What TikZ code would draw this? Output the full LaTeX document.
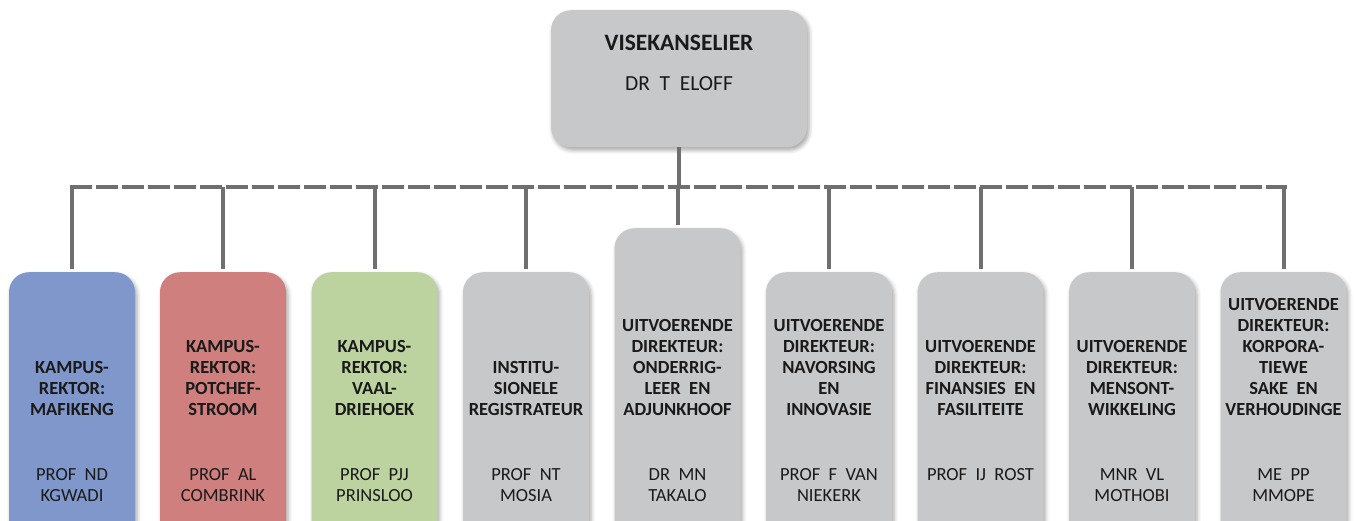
\documentclass[tikz,border=0pt]{standalone}
\usepackage{fontspec}
\setmainfont{Carlito}[WordSpace=2]
\usetikzlibrary{shadows.blur}

\definecolor{campusblue}{HTML}{7F97CB}
\definecolor{campusred}{HTML}{CF7F7E}
\definecolor{campusgreen}{HTML}{BCD39F}
\definecolor{boxgray}{HTML}{C7C8CA}
\definecolor{linegray}{HTML}{6F6F6F}
\definecolor{inkblack}{HTML}{1A1A1A}

\begin{document}
\begin{tikzpicture}
        [x=1pt, y=-1pt,
        unit/.style={rounded corners=20pt, minimum width=126pt, minimum height=280pt, inner sep=0pt, anchor=north, fill=boxgray,
          blur shadow={shadow xshift=2pt, shadow yshift=-3pt, shadow blur radius=4pt, shadow opacity=35}},
        title/.style={anchor=south, inner sep=0pt, align=center, text=inkblack, font=\fontsize{18.5}{21}\selectfont\bfseries},
        person/.style={anchor=north, inner sep=0pt, align=center, text=inkblack, font=\fontsize{18.5}{21}\selectfont},
        link/.style={line width=4pt, linegray},
        bus/.style={link, dash pattern=on 22pt off 4pt}]

        \useasboundingbox (0,0) rectangle (1354,521);

        % top box
        \node[unit, minimum width=256pt, minimum height=137pt] (vc) at (679,10) {};
        \node[inner sep=0pt, text=inkblack, font=\fontsize{23.5}{26}\selectfont\bfseries] (vctitle) at (679,43) {VISEKANSELIER};
        \node[inner sep=0pt, text=inkblack, font=\fontsize{21.5}{24}\selectfont] (vcname) at (679,84) {DR T ELOFF};

        % units
        \node[unit, fill=campusblue] (b1) at (72,272) {};
        \node[unit, fill=campusred] (b2) at (223,272) {};
        \node[unit, fill=campusgreen] (b3) at (374.5,272) {};
        \node[unit] (b4) at (526,272) {};
        \node[unit, minimum height=324pt] (b5) at (677.5,228) {};
        \node[unit] (b6) at (829,272) {};
        \node[unit] (b7) at (980.5,272) {};
        \node[unit] (b8) at (1132,272) {};
        \node[unit] (b9) at (1283.5,272) {};

        % titles
        \node[title] (t1) at (72,416) {KAMPUS-\\REKTOR:\\MAFIKENG};
        \node[title] (t2) at (223,416) {KAMPUS-\\REKTOR:\\POTCHEF-\\STROOM};
        \node[title] (t3) at (374.5,416) {KAMPUS-\\REKTOR:\\VAAL-\\DRIEHOEK};
        \node[title] (t4) at (526,416) {INSTITU-\\SIONELE\\REGISTRATEUR};
        \node[title] (t5) at (677.5,416) {UITVOERENDE\\DIREKTEUR:\\ONDERRIG-\\LEER EN\\ADJUNKHOOF};
        \node[title] (t6) at (829,416) {UITVOERENDE\\DIREKTEUR:\\NAVORSING\\EN\\INNOVASIE};
        \node[title] (t7) at (980.5,416) {UITVOERENDE\\DIREKTEUR:\\FINANSIES EN\\FASILITEITE};
        \node[title] (t8) at (1132,416) {UITVOERENDE\\DIREKTEUR:\\MENSONT-\\WIKKELING};
        \node[title] (t9) at (1283.5,416) {UITVOERENDE\\DIREKTEUR:\\KORPORA-\\TIEWE\\SAKE EN\\VERHOUDINGE};

        % names
        \node[person] (n1) at (72,468) {PROF ND\\KGWADI};
        \node[person] (n2) at (223,468) {PROF AL\\COMBRINK};
        \node[person] (n3) at (374.5,468) {PROF PJJ\\PRINSLOO};
        \node[person] (n4) at (526,468) {PROF NT\\MOSIA};
        \node[person] (n5) at (677.5,468) {DR MN\\TAKALO};
        \node[person] (n6) at (829,468) {PROF F VAN\\NIEKERK};
        \node[person] (n7) at (980.5,468) {PROF IJ ROST};
        \node[person] (n8) at (1132,468) {MNR VL\\MOTHOBI};
        \node[person] (n9) at (1283.5,468) {ME PP\\MMOPE};

        % connectors
        \coordinate (busL) at (70,187);
        \coordinate (busR) at (1287,187);
        \draw[bus] (busL) -- (busR);
        \draw[link] (vc.south) -- (vc.south |- busL);
        \draw[link, shorten >=3pt] (b1.north |- busL) -- (b1.north);
        \draw[link, shorten >=3pt] (b2.north |- busL) -- (b2.north);
        \draw[link, shorten >=3pt] (b3.north |- busL) -- (b3.north);
        \draw[link, shorten >=3pt] (b4.north |- busL) -- (b4.north);
        \draw[link, shorten >=3pt] (b5.north |- busL) -- (b5.north);
        \draw[link, shorten >=3pt] (b6.north |- busL) -- (b6.north);
        \draw[link, shorten >=3pt] (b7.north |- busL) -- (b7.north);
        \draw[link, shorten >=3pt] (b8.north |- busL) -- (b8.north);
        \draw[link, shorten >=3pt] (b9.north |- busL) -- (b9.north);

        \end{tikzpicture}
\end{document}
